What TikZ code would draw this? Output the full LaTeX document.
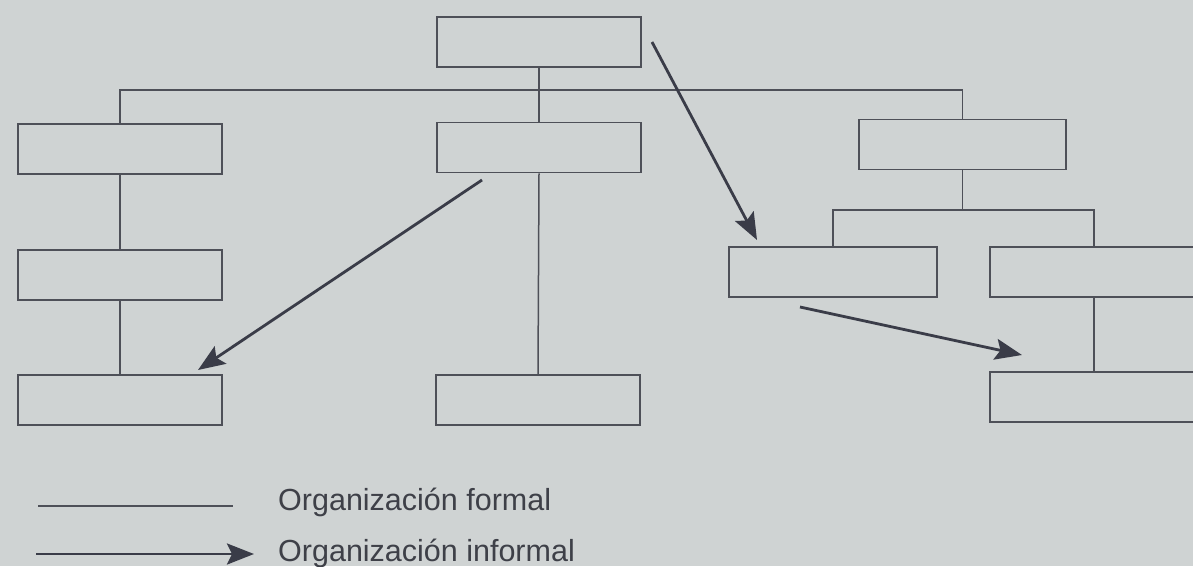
\documentclass[tikz,border=0pt]{standalone}
\usepackage{fontspec}
\setmainfont{Liberation Sans}
\usetikzlibrary{arrows.meta}
\definecolor{paper}{RGB}{207,211,211}
\definecolor{ink}{RGB}{78,80,88}
\definecolor{arrowink}{RGB}{58,60,72}
\definecolor{textink}{RGB}{62,64,72}
\tikzset{
  orgbox/.style={draw=ink, line width=1.6pt, minimum width=204pt, minimum height=50pt, inner sep=0pt},
  formal/.style={draw=ink, line width=1.5pt},
  informal/.style={draw=arrowink, line width=2.8pt, -{Stealth[length=27pt,width=21pt,inset=5pt]}},
  legendtext/.style={anchor=base west, inner sep=0pt, text=textink, font=\fontsize{30.5}{34}\selectfont}
}
\begin{document}
\begin{tikzpicture}[x=1pt,y=-1pt]
\fill[paper] (0,0) rectangle (1193,566);
\useasboundingbox (0,0) rectangle (1193,566);
\clip (0,0) rectangle (1193,566);
% boxes
\node[orgbox] (top) at (539,42) {};
\node[orgbox] (L1) at (120,149) {};
\node[orgbox] (L2) at (120,275) {};
\node[orgbox] (L3) at (120,400) {};
\node[orgbox] (M1) at (539,147.5) {};
\node[orgbox] (M3) at (538,400) {};
\node[orgbox, minimum width=207pt] (R1) at (962.5,144.5) {};
\node[orgbox, minimum width=208pt] (R2a) at (833,272) {};
\node[orgbox, minimum width=208pt] (R2b) at (1094,272) {};
\node[orgbox, minimum width=208pt] (R3) at (1094,397) {};
% formal lines
\coordinate (bus) at (539,90);
\coordinate (rbus) at (962.5,210);
\draw[formal] (L1.north) |- (bus) -| (R1.north);
\draw[formal] (top.south) -- (M1.north);
\draw[formal] (L1.south) -- (L2.north);
\draw[formal] (L2.south) -- (L3.north);
\draw[formal] (M1.south) -- (M3.north);
\draw[formal] (R1.south) -- (rbus);
\draw[formal] (R2a.north) |- (rbus) -| (R2b.north);
\draw[formal] (R2b.south) -- (R3.north);
% informal arrows
\coordinate (a1s) at (652,42);
\coordinate (a1e) at (757,240);
\coordinate (a2s) at (482,180);
\coordinate (a2e) at (198,370);
\coordinate (a3s) at (800,307);
\coordinate (a3e) at (1022,355);
\draw[informal] (a1s) -- (a1e);
\draw[informal] (a2s) -- (a2e);
\draw[informal] (a3s) -- (a3e);
% legend
\coordinate (lf1) at (38,506);
\coordinate (lf2) at (233,506);
\coordinate (li1) at (36,554);
\coordinate (li2) at (254,554);
\draw[formal] (lf1) -- (lf2);
\draw[informal] (li1) -- (li2);
\node[legendtext] (t1) at (278,510) {Organización formal};
\node[legendtext] (t2) at (278,561) {Organización informal};
\end{tikzpicture}
\end{document}
